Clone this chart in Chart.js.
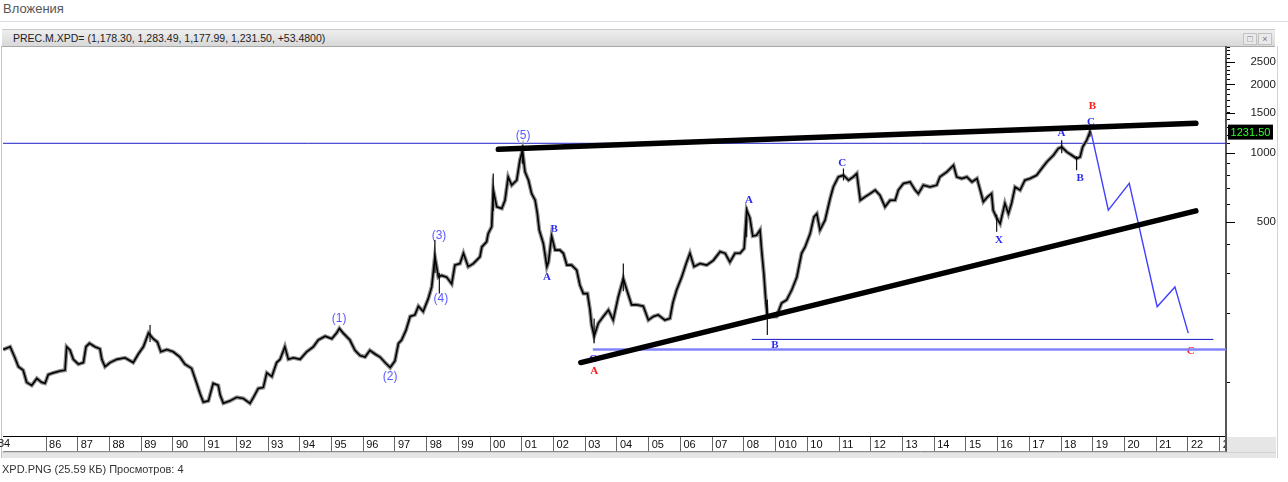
<!DOCTYPE html>
<html>
<head>
<meta charset="utf-8">
<script src="https://cdn.jsdelivr.net/npm/chart.js@4.4.1/dist/chart.umd.min.js"></script>
<style>
  body { margin:0; width:1288px; height:482px; background:#fff; position:relative; overflow:hidden;
         font-family:"Liberation Sans", Arial, sans-serif; }
  #title { position:absolute; left:3px; top:1px; font-size:13px; color:#555; }
  #rule { position:absolute; left:0; top:21px; width:1288px; height:1px; background:#dadde3; }
  #bar { position:absolute; left:2px; top:29px; width:1273px; height:16px; line-height:16px;
         background:linear-gradient(#eeeeee,#d8d8d8); border-top:1px solid #c8c8c8; border-bottom:1px solid #a9a9a9;
         font-size:10.5px; color:#222; }
  #bar span.t { position:absolute; left:11px; top:0; }
  .btn { position:absolute; top:3px; width:12px; height:10px; background:#e9e9e9; border:1px solid #c2c2c2;
         font-size:9px; line-height:10px; text-align:center; color:#777; }
  #frame { position:absolute; left:1px; top:46px; width:1275px; height:412px;
           border-left:1px solid #c4c4c4; border-right:1px solid #cfd3d8; }
  #c { position:absolute; left:0; top:46px; }
  #scroll { position:absolute; left:2px; top:452px; width:1274px; height:5px; background:#e6e6e6; border-top:1px solid #d0d0d0; }
  #y84 { position:absolute; left:-2px; top:437px; font-size:11px; color:#111; }
  #foot { position:absolute; left:2px; top:463px; font-size:11px; color:#333; }
</style>
</head>
<body>
<div id="title">Вложения</div>
<div id="rule"></div>
<div id="bar"><span class="t">PREC.M.XPD= (1,178.30, 1,283.49, 1,177.99, 1,231.50, +53.4800)</span>
  <div class="btn" style="left:1241px">&#9633;</div><div class="btn" style="left:1256px">&#215;</div></div>
<div id="frame"></div>
<canvas id="c" width="1276" height="406"></canvas>
<div id="y84">84</div>
<div id="scroll"></div>
<div id="foot">XPD.PNG (25.59 КБ) Просмотров: 4</div>
<script>
// monthly palladium (PREC.M.XPD=), closes, log scale
const dates = [
  1984.65, 1984.87, 1985.02, 1985.13, 1985.28, 1985.39, 1985.55, 1985.71, 1985.86, 1985.97,
  1986.07, 1986.23, 1986.44, 1986.60, 1986.65, 1986.76, 1986.86, 1987.02, 1987.18, 1987.26,
  1987.37, 1987.54, 1987.70, 1987.76, 1987.86, 1988.02, 1988.23, 1988.49, 1988.75, 1988.91,
  1989.07, 1989.23, 1989.38, 1989.51, 1989.62, 1989.81, 1990.01, 1990.22, 1990.38, 1990.59,
  1990.75, 1990.86, 1990.96, 1991.12, 1991.27, 1991.43, 1991.49, 1991.59, 1991.80, 1992.01,
  1992.22, 1992.43, 1992.54, 1992.69, 1992.85, 1992.96, 1993.12, 1993.27, 1993.38, 1993.53,
  1993.64, 1993.80, 1994.01, 1994.22, 1994.43, 1994.58, 1994.80, 1995.01, 1995.16, 1995.25,
  1995.37, 1995.58, 1995.74, 1995.90, 1996.06, 1996.21, 1996.37, 1996.53, 1996.69, 1996.85,
  1997.00, 1997.11, 1997.21, 1997.35, 1997.48, 1997.63, 1997.74, 1997.89, 1998.05, 1998.16,
  1998.26, 1998.37, 1998.47, 1998.63, 1998.79, 1998.89, 1999.05, 1999.16, 1999.31, 1999.47,
  1999.68, 1999.74, 1999.89, 1999.94, 2000.05, 2000.10, 2000.21, 2000.37, 2000.47, 2000.57,
  2000.68, 2000.84, 2000.94, 2001.02, 2001.10, 2001.21, 2001.31, 2001.42, 2001.49, 2001.55,
  2001.68, 2001.79, 2001.84, 2001.94, 2002.05, 2002.20, 2002.31, 2002.42, 2002.57, 2002.73,
  2002.83, 2002.94, 2003.07, 2003.15, 2003.20, 2003.28, 2003.41, 2003.57, 2003.73, 2003.88,
  2004.04, 2004.20, 2004.31, 2004.46, 2004.62, 2004.83, 2004.99, 2005.15, 2005.30, 2005.51,
  2005.67, 2005.76, 2005.88, 2006.04, 2006.18, 2006.30, 2006.43, 2006.62, 2006.83, 2007.04,
  2007.25, 2007.41, 2007.56, 2007.72, 2007.88, 2008.01, 2008.09, 2008.19, 2008.28, 2008.40,
  2008.51, 2008.56, 2008.63, 2008.69, 2008.74, 2008.88, 2009.03, 2009.19, 2009.35, 2009.51,
  2009.67, 2009.82, 2009.93, 2010.09, 2010.21, 2010.30, 2010.40, 2010.56, 2010.72, 2010.82,
  2010.98, 2011.14, 2011.30, 2011.45, 2011.56, 2011.67, 2011.82, 2011.98, 2012.14, 2012.29,
  2012.45, 2012.61, 2012.77, 2012.87, 2013.03, 2013.24, 2013.40, 2013.50, 2013.66, 2013.87,
  2014.08, 2014.18, 2014.40, 2014.61, 2014.71, 2014.87, 2015.03, 2015.19, 2015.35, 2015.45,
  2015.55, 2015.68, 2015.81, 2015.86, 2015.97, 2016.08, 2016.23, 2016.34, 2016.44, 2016.55,
  2016.71, 2016.86, 2017.02, 2017.23, 2017.39, 2017.55, 2017.76, 2017.91, 2018.02, 2018.18,
  2018.34, 2018.49, 2018.60, 2018.68, 2018.81, 2018.91, 2018.95
];
const closes = [
  139, 143, 128, 117, 113, 100, 97, 104, 100, 99,
  108, 110, 112, 113, 143, 138, 126, 120, 122, 143,
  148, 143, 140, 126, 117, 122, 126, 128, 122, 133,
  143, 164, 155, 150, 136, 139, 136, 129, 120, 115,
  99, 89, 82, 83, 99, 97, 88, 81, 83, 86,
  85, 81, 86, 94, 95, 110, 106, 122, 126, 143,
  126, 128, 126, 136, 143, 153, 159, 155, 164, 172,
  164, 153, 138, 131, 129, 138, 133, 129, 122, 116,
  124, 148, 153, 169, 194, 197, 215, 204, 232, 261,
  353, 288, 293, 288, 269, 325, 330, 366, 320, 330,
  353, 390, 411, 446, 478, 691, 584, 574, 624, 789,
  726, 763, 933, 1031, 830, 763, 667, 624, 545, 462,
  403, 320, 335, 435, 378, 378, 366, 325, 325, 309,
  266, 244, 244, 207, 178, 159, 181, 194, 207, 187,
  236, 284, 253, 218, 218, 215, 187, 194, 197, 187,
  190, 222, 253, 288, 330, 366, 320, 330, 325, 341,
  372, 366, 335, 366, 366, 384, 564, 522, 435, 439,
  462, 378, 298, 229, 194, 194, 194, 222, 229, 253,
  288, 366, 390, 446, 528, 545, 462, 511, 635, 713,
  789, 802, 763, 789, 816, 624, 645, 667, 691, 656,
  584, 624, 624, 691, 738, 750, 691, 667, 726, 713,
  726, 789, 830, 887, 789, 776, 789, 750, 776, 691,
  614, 645, 667, 564, 522, 493, 605, 545, 605, 713,
  691, 763, 776, 802, 858, 917, 981, 1049, 1066, 1014,
  981, 949, 964, 1066, 1141, 1239, 1231.5
];
const lastClose = 1231.5;

// monthly highs/lows that stick out of the close line
const wickDates = [1989.28, 1998.26, 1998.40, 2000.10, 2001.02, 2003.28, 2004.20, 2008.09, 2008.74, 2011.14, 2015.97, 2018.02, 2018.49, 2018.91];
const wickLows  = [150, 300, 244, 560, 900, 148, 250, 430, 161, 760, 454, 1000, 844, 1180];
const wickHighs = [178, 418, 300, 816, 1084, 190, 330, 584, 230, 858, 540, 1141, 970, 1283];

// drawn lines
const upperTrendDates = [2000.26, 2022.25];
const upperTrendValues = [1041, 1352];
const lowerTrendDates = [2002.86, 2022.25];
const lowerTrendValues = [122, 561];
const forecastDates = [2018.95, 2019.49, 2020.15, 2021.03, 2021.59, 2022.01];
const forecastValues = [1231.5, 565, 739, 214, 261, 164];
const resistanceLevel = 1106;
const supportDates = [2008.25, 2022.80];
const supportLevel = 154;
const baseDates = [2003.24, 2023.2];
const baseLevel = 139;

// wave marks
const noteText   = ['(1)', '(2)', '(3)', '(4)', '(5)', 'A', 'B', 'C', 'A', 'A', 'B', 'C', 'X', 'A', 'B', 'C', 'B', 'C'];
const noteKind   = ['wave', 'wave', 'wave', 'wave', 'wave', 'blue', 'blue', 'blue', 'red', 'blue', 'blue', 'blue', 'blue', 'blue', 'blue', 'blue', 'red', 'red'];
const noteDates  = [1995.24, 1996.85, 1998.39, 1998.45, 2001.04, 2001.79, 2002.02, 2003.25, 2003.28, 2008.16, 2008.98, 2011.10, 2016.04, 2018.01, 2018.60, 2018.94, 2018.99, 2022.09];
const noteValues = [189, 106, 435, 233, 1190, 289, 467, 126, 112, 625, 146, 904, 418, 1223, 778, 1374, 1609, 137];

// axes
const tickYears = [1986, 1987, 1988, 1989, 1990, 1991, 1992, 1993, 1994, 1995, 1996, 1997, 1998, 1999,
  2000, 2001, 2002, 2003, 2004, 2005, 2006, 2007, 2008, 2009, 2010, 2011, 2012, 2013, 2014, 2015,
  2016, 2017, 2018, 2019, 2020, 2021, 2022, 2023];
const tickLabels = ['86', '87', '88', '89', '90', '91', '92', '93', '94', '95', '96', '97', '98', '99',
  '00', '01', '02', '03', '04', '05', '06', '07', '08', '010', '10', '11', '12', '13', '14', '15',
  '16', '17', '18', '19', '20', '21', '22', '23'];
const yTicks = [100, 200, 300, 400, 500, 600, 700, 800, 900, 1000, 1100, 1200, 1300, 1400, 1500,
  1600, 1700, 1800, 1900, 2000, 2100, 2200, 2300, 2400, 2500, 2600, 2700, 2800, 2900];
const yLabels = [500, 1000, 1500, 2000, 2500];

const xMin = 1984.644, xMax = 2023.2;

const pts = (xs, ys) => xs.map((d, i) => ({x: d, y: ys[i]}));

// wicks as one broken line
const wickData = [];
wickDates.forEach((d, i) => {
  wickData.push({x: d, y: wickLows[i]}, {x: d, y: wickHighs[i]}, {x: d, y: null});
});

const overlay = {
  id: 'overlay',
  beforeDatasetsDraw(chart) {
    const {ctx, scales: {x, y}} = chart;
    ctx.save();
    ctx.textAlign = 'center';
    ctx.textBaseline = 'middle';
    noteText.forEach((t, i) => {
      if (noteKind[i] === 'wave') {
        ctx.font = '12px "Liberation Sans"';
        ctx.fillStyle = '#5a5aff';
      } else {
        ctx.font = 'bold 11px "Liberation Serif"';
        ctx.fillStyle = noteKind[i] === 'red' ? '#ff1a1a' : '#2a2af2';
      }
      ctx.fillText(t, x.getPixelForValue(noteDates[i]), y.getPixelForValue(noteValues[i]));
    });
    ctx.restore();
  },
  afterDraw(chart) {
    const {ctx, chartArea: a, scales: {y}} = chart;
    ctx.save();
    // grey corner under the price axis
    ctx.fillStyle = '#e6e6e6';
    ctx.fillRect(a.right + 1, a.bottom + 1, chart.width - a.right - 1, 15);
    ctx.strokeStyle = '#555';
    ctx.lineWidth = 2;
    ctx.beginPath();
    ctx.moveTo(a.right, a.bottom);
    ctx.lineTo(a.right, a.bottom + 16);
    ctx.stroke();
    // bottom of the date row
    ctx.lineWidth = 1;
    ctx.strokeStyle = '#8a8a8a';
    ctx.beginPath();
    ctx.moveTo(a.left, a.bottom + 15.5);
    ctx.lineTo(a.right, a.bottom + 15.5);
    ctx.stroke();
    // longer ticks for labelled prices
    ctx.strokeStyle = '#000';
    yLabels.forEach(v => {
      const py = Math.round(y.getPixelForValue(v)) + 0.5;
      ctx.beginPath();
      ctx.moveTo(a.right, py);
      ctx.lineTo(a.right + 9, py);
      ctx.stroke();
    });
    // last price tag
    const py = y.getPixelForValue(lastClose);
    ctx.fillStyle = '#000';
    ctx.fillRect(a.right + 2, py - 8, 45, 15);
    ctx.fillStyle = '#2cff2c';
    ctx.font = '11px "Liberation Sans"';
    ctx.textAlign = 'center';
    ctx.textBaseline = 'middle';
    ctx.fillText(lastClose.toFixed(2), a.right + 24.5, py);
    ctx.restore();
  }
};

Chart.defaults.font.family = '"Liberation Sans", Arial, sans-serif';

new Chart(document.getElementById('c'), {
  type: 'line',
  data: {
    datasets: [
      {data: pts(upperTrendDates, upperTrendValues), borderColor: '#000', borderWidth: 5.5, borderCapStyle: 'round'},
      {data: pts(lowerTrendDates, lowerTrendValues), borderColor: '#000', borderWidth: 5.5, borderCapStyle: 'round'},
      {data: pts(forecastDates, forecastValues), borderColor: '#4040ff', borderWidth: 1.4},
      {data: pts(dates, closes), borderColor: '#000', borderWidth: 1.6},
      {data: wickData, borderColor: '#111', borderWidth: 1.2, spanGaps: false},
      {data: pts(dates, closes), borderColor: '#8e8e8e', borderWidth: 4},
      {data: [{x: xMin, y: resistanceLevel}, {x: xMax, y: resistanceLevel}], borderColor: '#2020c8', borderWidth: 1},
      {data: pts(supportDates, [supportLevel, supportLevel]), borderColor: '#1414c8', borderWidth: 1},
      {data: pts(baseDates, [baseLevel, baseLevel]), borderColor: '#8383ff', borderWidth: 2.5}
    ]
  },
  options: {
    responsive: false,
    animation: false,
    devicePixelRatio: 1,
    events: [],
    layout: {padding: {left: 3, top: 0, right: 0, bottom: 0}},
    elements: {point: {radius: 0}, line: {tension: 0, fill: false}},
    plugins: {legend: {display: false}, tooltip: {enabled: false}},
    scales: {
      x: {
        type: 'linear', position: 'bottom', min: xMin, max: xMax,
        afterBuildTicks: s => { s.ticks = tickYears.map(v => ({value: v})); },
        afterFit: s => { s.height = 16; s.paddingLeft = 0; s.paddingRight = 0; },
        ticks: {autoSkip: false, maxRotation: 0, align: 'start', labelOffset: 3, padding: -14,
                font: {size: 11}, color: '#111', callback: (v, i) => tickLabels[i]},
        grid: {drawOnChartArea: false, drawTicks: true, tickLength: 16, color: '#666'},
        border: {display: true, color: '#000', width: 1}
      },
      y: {
        type: 'logarithmic', position: 'right', min: 58.3, max: 2942,
        afterBuildTicks: s => { s.ticks = yTicks.map(v => ({value: v})); },
        afterFit: s => { s.width = 50; s.paddingTop = 0; s.paddingBottom = 0; },
        ticks: {autoSkip: false, crossAlign: 'far', padding: 14, font: {size: 11.5}, color: '#222',
                callback: v => yLabels.includes(v) ? String(v) : ''},
        grid: {drawOnChartArea: false, drawTicks: true, tickLength: 4, color: '#000'},
        border: {display: true, color: '#555', width: 2}
      }
    }
  },
  plugins: [overlay]
});
</script>
</body>
</html>
